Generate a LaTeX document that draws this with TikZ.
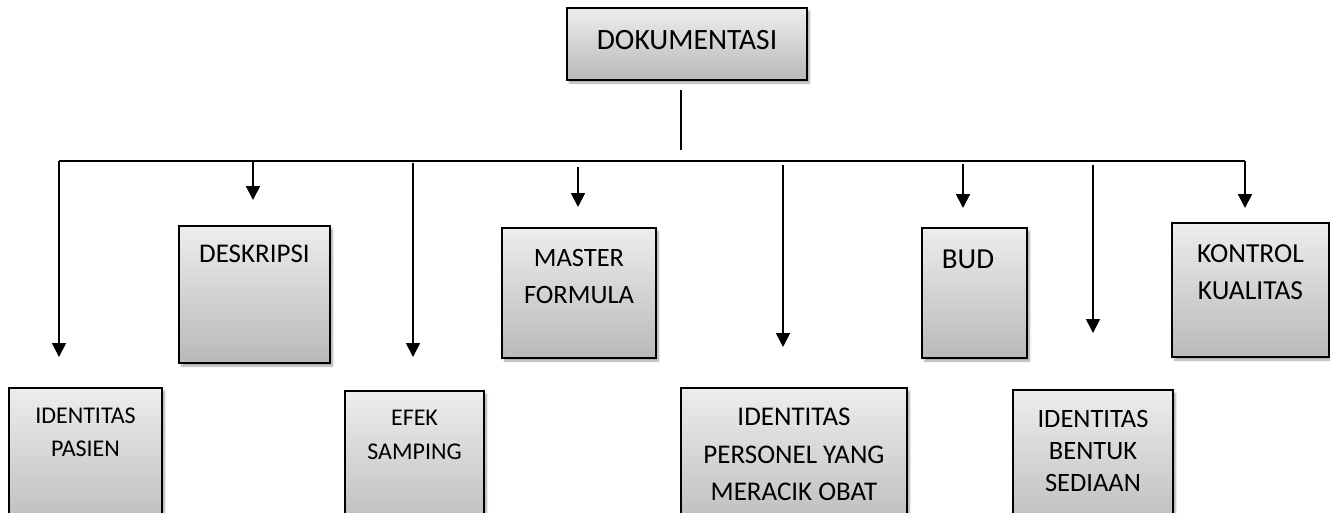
\documentclass[tikz,border=0pt]{standalone}
\usepackage{fontspec}
\setmainfont{Carlito}
\usetikzlibrary{arrows.meta,shadows.blur}

\tikzset{
  box/.style={draw=black, line width=1.5pt, rectangle, inner sep=0pt,
    top color=gray!14, bottom color=gray!55,
    blur shadow={shadow xshift=2.5pt, shadow yshift=-3pt, shadow blur steps=6, shadow opacity=35}},
  lbl/.style={align=center, inner sep=0pt, anchor=north, text=black},
  link/.style={line width=1.8pt, draw=black},
  arr/.style={link, -{Triangle[length=14pt,width=14pt]}},
}

\begin{document}
\begin{tikzpicture}[x=1pt, y=-1pt]
\useasboundingbox (0,0) rectangle (1330,512);
\clip (0,0) rectangle (1330,512);

% boxes
\node[box, minimum width=240pt, minimum height=72pt] (dok) at (687,44) {};
\node[box, minimum width=151pt, minimum height=137pt] (desk) at (254.5,294.5) {};
\node[box, minimum width=154pt, minimum height=130pt] (master) at (579,293) {};
\node[box, minimum width=105pt, minimum height=130pt] (bud) at (974.5,293) {};
\node[box, minimum width=157pt, minimum height=134pt] (kontrol) at (1250.5,290) {};
\node[box, minimum width=153pt, minimum height=150pt] (pasien) at (85.5,463) {};
\node[box, minimum width=139pt, minimum height=150pt] (efek) at (414.5,466) {};
\node[box, minimum width=226pt, minimum height=150pt] (personel) at (794,463) {};
\node[box, minimum width=160pt, minimum height=150pt] (bentuk) at (1093,465) {};

% labels
\node[inner sep=0pt, text=black, font=\fontsize{29.5}{34}\selectfont] (tdok) at (687,40) {DOKUMENTASI};
\node[lbl, font=\fontsize{27}{34}\selectfont] (tdesk) at (254.5,245) {DESKRIPSI};
\node[lbl, font=\fontsize{26.5}{37}\selectfont] (tmaster) at (579,249) {MASTER\\FORMULA};
\node[lbl, font=\fontsize{29}{37}\selectfont] (tbud) at (968,250) {BUD};
\node[lbl, font=\fontsize{27.5}{37}\selectfont] (tkontrol) at (1250.5,244) {KONTROL\\KUALITAS};
\node[lbl, font=\fontsize{24}{33}\selectfont] (tpasien) at (85.5,408) {IDENTITAS\\PASIEN};
\node[lbl, font=\fontsize{24}{34}\selectfont] (tefek) at (414.5,410) {EFEK\\SAMPING};
\node[lbl, font=\fontsize{27}{37.5}\selectfont] (tpersonel) at (794,408) {IDENTITAS\\PERSONEL YANG\\MERACIK OBAT};
\node[lbl, font=\fontsize{26.5}{32}\selectfont] (tbentuk) at (1093,410) {IDENTITAS\\BENTUK\\SEDIAAN};

% trunk and bus
\coordinate (trunkTop) at (681,90);
\coordinate (trunkEnd) at (681,150);
\coordinate (busL) at (59,161);
\coordinate (busR) at (1245,161);
\draw[link] (trunkTop) -- (trunkEnd);
\draw[link] (busL) -- (busR);

% branches
\coordinate (aPasien) at (59,357);
\coordinate (sDesk) at (253,161);   \coordinate (aDesk) at (253,200);
\coordinate (sEfek) at (413,163);   \coordinate (aEfek) at (413,357);
\coordinate (sMaster) at (578,167); \coordinate (aMaster) at (578,207);
\coordinate (sPers) at (783,165);   \coordinate (aPers) at (783,347);
\coordinate (sBud) at (963,164);    \coordinate (aBud) at (963,208);
\coordinate (sBent) at (1093,165);  \coordinate (aBent) at (1093,333);
\coordinate (aKontrol) at (1245,208);

\draw[arr] (busL) -- (aPasien);
\draw[arr] (sDesk) -- (aDesk);
\draw[arr] (sEfek) -- (aEfek);
\draw[arr] (sMaster) -- (aMaster);
\draw[arr] (sPers) -- (aPers);
\draw[arr] (sBud) -- (aBud);
\draw[arr] (sBent) -- (aBent);
\draw[arr] (busR) -- (aKontrol);
\end{tikzpicture}
\end{document}
